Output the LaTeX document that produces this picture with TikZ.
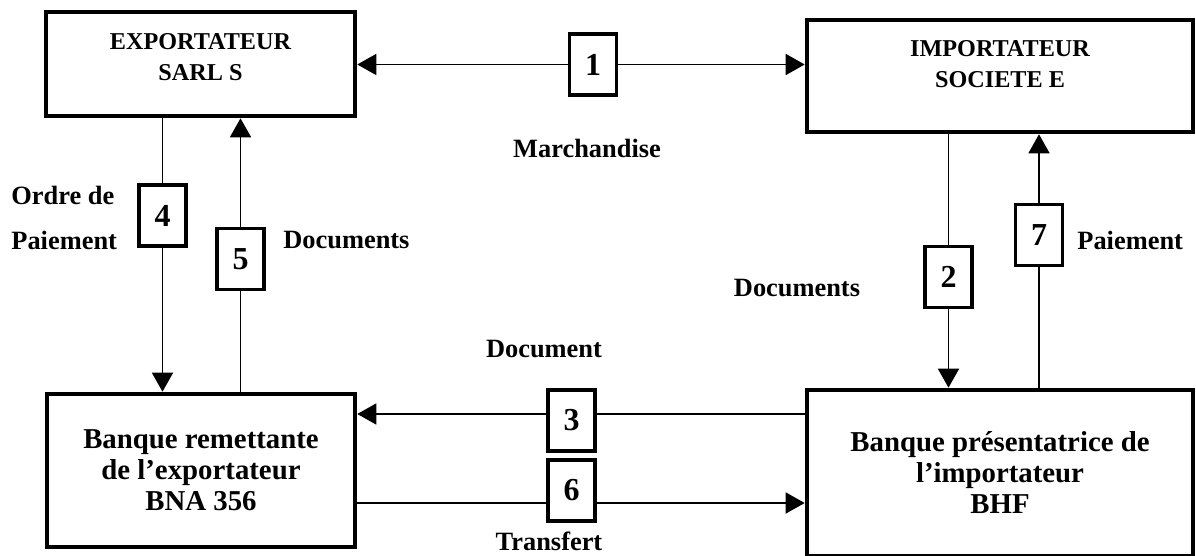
\documentclass[tikz,border=0pt]{standalone}
\usepackage{fontspec}
\setmainfont{Liberation Serif}
\usetikzlibrary{arrows.meta}

\begin{document}
\begin{tikzpicture}[
        x=0.5pt, y=-0.5pt,
        box/.style={draw, line width=2.3pt, inner sep=0pt, align=center,
          font=\bfseries\fontsize{14.4}{15.5}\selectfont},
        boxtext/.style={align=center, inner sep=0pt,
          font=\bfseries\fontsize{12.1}{15.5}\selectfont},
        num/.style={draw, line width=1.7pt, inner sep=0pt,
          minimum width=23.5pt, minimum height=30.5pt,
          font=\bfseries\fontsize{16}{16}\selectfont},
        lbl/.style={inner sep=0pt, font=\bfseries\fontsize{13.2}{14}\selectfont},
        flow/.style={line width=0.8pt},
        tip/.style={flow, -{Triangle[length=9.5pt,width=10.5pt]}}
      ]
      \useasboundingbox (0,0) rectangle (1196,556);
      % the four parties
      \node[box, minimum width=154.5pt, minimum height=52pt,
        label={[boxtext, yshift=3.5pt]center:EXPORTATEUR\\SARL S}] (exp) at (200.5,64) {};
      \node[box, minimum width=193pt, minimum height=56pt,
        label={[boxtext, yshift=6pt]center:IMPORTATEUR\\SOCIETE E}] (imp) at (1000,76) {};
      \node[box, minimum width=154pt, minimum height=76.5pt] (bna) at (201,470.5)
        {Banque remettante\\de l’exportateur\\BNA 356};
      \node[box, minimum width=193pt, minimum height=83pt] (bhf) at (1000,473)
        {Banque présentatrice de\\l’importateur\\BHF};
      % step numbers
      \foreach \n/\x/\y in {1/593/64.5, 2/948.5/277, 3/571.5/420.5, 4/162.5/215.5,
          5/240.5/259, 6/571.5/490.5, 7/1039/235}
        \node[num] (b\n) at (\x,\y) {\n};
      \coordinate (doc) at (0,414);
      \coordinate (trf) at (0,503);
      % flows
      \draw[tip] (b1.west) -- (b1.west -| exp.east);
      \draw[tip] (b1.east) -- (b1.east -| imp.west);
      \draw[flow] (b2.north) -- (b2.north |- imp.south);
      \draw[tip] (b2.south) -- (b2.south |- bhf.north);
      \draw[flow] (bhf.west |- doc) -- (b3.east |- doc);
      \draw[tip] (b3.west |- doc) -- (bna.east |- doc);
      \draw[flow] (b4.north) -- (b4.north |- exp.south);
      \draw[tip] (b4.south) -- (b4.south |- bna.north);
      \draw[flow] (b5.south) -- (b5.south |- bna.north);
      \draw[tip] (b5.north) -- (b5.north |- exp.south);
      \draw[flow] (bna.east |- trf) -- (b6.west |- trf);
      \draw[tip] (b6.east |- trf) -- (bhf.west |- trf);
      \draw[flow] (b7.south) -- (b7.south |- bhf.north);
      \draw[tip] (b7.north) -- (b7.north |- imp.south);
      % labels
      \node[lbl] (merch) at (587,148) {Marchandise};
      \node[lbl, anchor=west] (ordre) at (11,195) {Ordre de};
      \node[lbl, anchor=west] (paie4) at (11,240) {Paiement};
      \node[lbl, anchor=west] (docs5) at (283,240) {Documents};
      \node[lbl, anchor=west] (paie7) at (1077,240) {Paiement};
      \node[lbl] (docs2) at (797,288) {Documents};
      \node[lbl] (docs3) at (544,349) {Document};
      \node[lbl] (trans) at (549,541) {Transfert};
\end{tikzpicture}
\end{document}
